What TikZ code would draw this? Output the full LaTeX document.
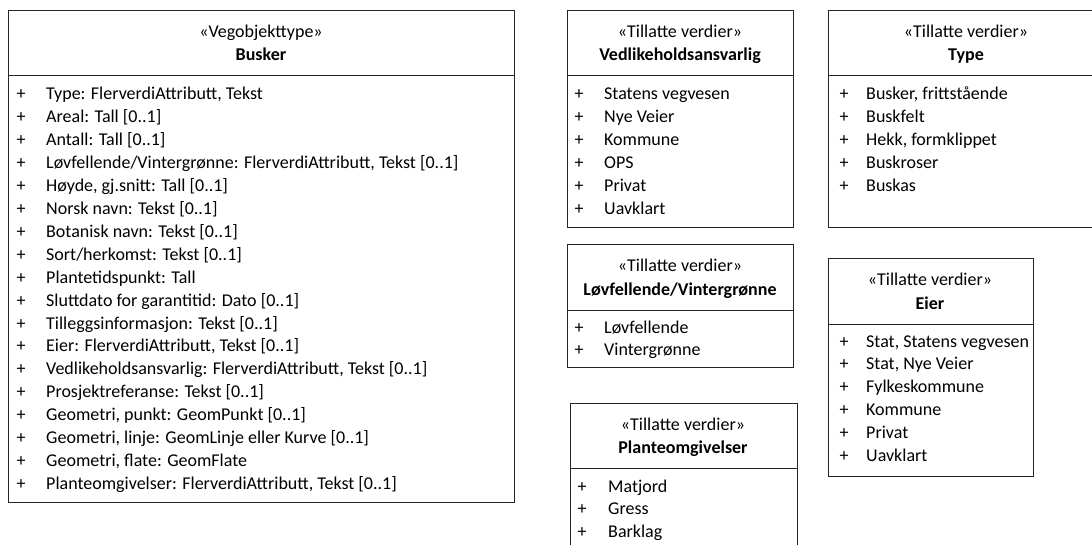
\documentclass[tikz,border=0pt]{standalone}
\usepackage{fontspec}
\setmainfont{Carlito}
\begin{document}
\begin{tikzpicture}[x=1pt, y=-1pt,
    box/.style={draw=black!85, line width=1pt},
    txt/.style={inner sep=0pt, font=\fontsize{18}{21}\selectfont},
    stereo/.style={txt, anchor=base},
    title/.style={txt, anchor=base, font=\fontsize{18}{21}\selectfont\bfseries},
    plus/.style={txt, anchor=base},
    attr/.style={txt, anchor=base west}]
    \clip (0,0) rectangle (1092,545);
    % Vegobjekttype
    \draw[box] (8,11) rectangle (514,502);
    \draw[box] (8,76) -- (514,76);
    \node[stereo] (busker-st) at (261,38) {«Vegobjekttype»};
    \node[title] (busker) at (261,61) {Busker};
    \foreach \t [count=\i] in {{Type: FlerverdiAttributt, Tekst}, {Areal: Tall [0..1]}, {Antall: Tall [0..1]},
        {Løvfellende/Vintergrønne: FlerverdiAttributt, Tekst [0..1]}, {Høyde, gj.snitt: Tall [0..1]},
        {Norsk navn: Tekst [0..1]}, {Botanisk navn: Tekst [0..1]}, {Sort/herkomst: Tekst [0..1]},
        {Plantetidspunkt: Tall}, {Sluttdato for garantitid: Dato [0..1]}, {Tilleggsinformasjon: Tekst [0..1]},
        {Eier: FlerverdiAttributt, Tekst [0..1]}, {Vedlikeholdsansvarlig: FlerverdiAttributt, Tekst [0..1]},
        {Prosjektreferanse: Tekst [0..1]}, {Geometri, punkt: GeomPunkt [0..1]},
        {Geometri, linje: GeomLinje eller Kurve [0..1]}, {Geometri, flate: GeomFlate},
        {Planteomgivelser: FlerverdiAttributt, Tekst [0..1]}} {
        \node[plus] (busker-p\i) at (21,{100+22.9*(\i-1)}) {+};
        \node[attr] (busker-\i) at (46,{100+22.9*(\i-1)}) {\t};
    }
    % Vedlikeholdsansvarlig
    \draw[box] (567,11) rectangle (793,228);
    \draw[box] (567,76) -- (793,76);
    \node[stereo] (vedl-st) at (680,38) {«Tillatte verdier»};
    \node[title] (vedl) at (680,61) {Vedlikeholdsansvarlig};
    \foreach \t [count=\i] in {Statens vegvesen, Nye Veier, Kommune, OPS, Privat, Uavklart} {
        \node[plus] (vedl-p\i) at (579,{100+22.9*(\i-1)}) {+};
        \node[attr] (vedl-\i) at (604,{100+22.9*(\i-1)}) {\t};
    }
    % Type
    \draw[box] (828,11) rectangle (1100,228);
    \draw[box] (828,76) -- (1100,76);
    \node[stereo] (type-st) at (966,38) {«Tillatte verdier»};
    \node[title] (type) at (966,61) {Type};
    \foreach \t [count=\i] in {{Busker, frittstående}, Buskfelt, {Hekk, formklippet}, Buskroser, Buskas} {
        \node[plus] (type-p\i) at (844,{100+22.9*(\i-1)}) {+};
        \node[attr] (type-\i) at (866,{100+22.9*(\i-1)}) {\t};
    }
    % Loevfellende/Vintergroenne
    \draw[box] (567,245) rectangle (793,367);
    \draw[box] (567,310) -- (793,310);
    \node[stereo] (lov-st) at (680,272) {«Tillatte verdier»};
    \node[title] (lov) at (680,295) {Løvfellende/Vintergrønne};
    \foreach \t [count=\i] in {Løvfellende, Vintergrønne} {
        \node[plus] (lov-p\i) at (579,{333+22.9*(\i-1)}) {+};
        \node[attr] (lov-\i) at (604,{333+22.9*(\i-1)}) {\t};
    }
    % Eier
    \draw[box] (828,259) rectangle (1033,476);
    \draw[box] (828,324) -- (1033,324);
    \node[stereo] (eier-st) at (930,286) {«Tillatte verdier»};
    \node[title] (eier) at (930,309) {Eier};
    \foreach \t [count=\i] in {{Stat, Statens vegvesen}, {Stat, Nye Veier}, Fylkeskommune, Kommune, Privat, Uavklart} {
        \node[plus] (eier-p\i) at (844,{347+22.9*(\i-1)}) {+};
        \node[attr] (eier-\i) at (866,{347+22.9*(\i-1)}) {\t};
    }
    % Planteomgivelser
    \draw[box] (570,403) rectangle (797,560);
    \draw[box] (570,468) -- (797,468);
    \node[stereo] (plante-st) at (683,430) {«Tillatte verdier»};
    \node[title] (plante) at (683,453) {Planteomgivelser};
    \foreach \t [count=\i] in {Matjord, Gress, Barklag} {
        \node[plus] (plante-p\i) at (582,{492+22.6*(\i-1)}) {+};
        \node[attr] (plante-\i) at (608,{492+22.6*(\i-1)}) {\t};
    }
\end{tikzpicture}
\end{document}
